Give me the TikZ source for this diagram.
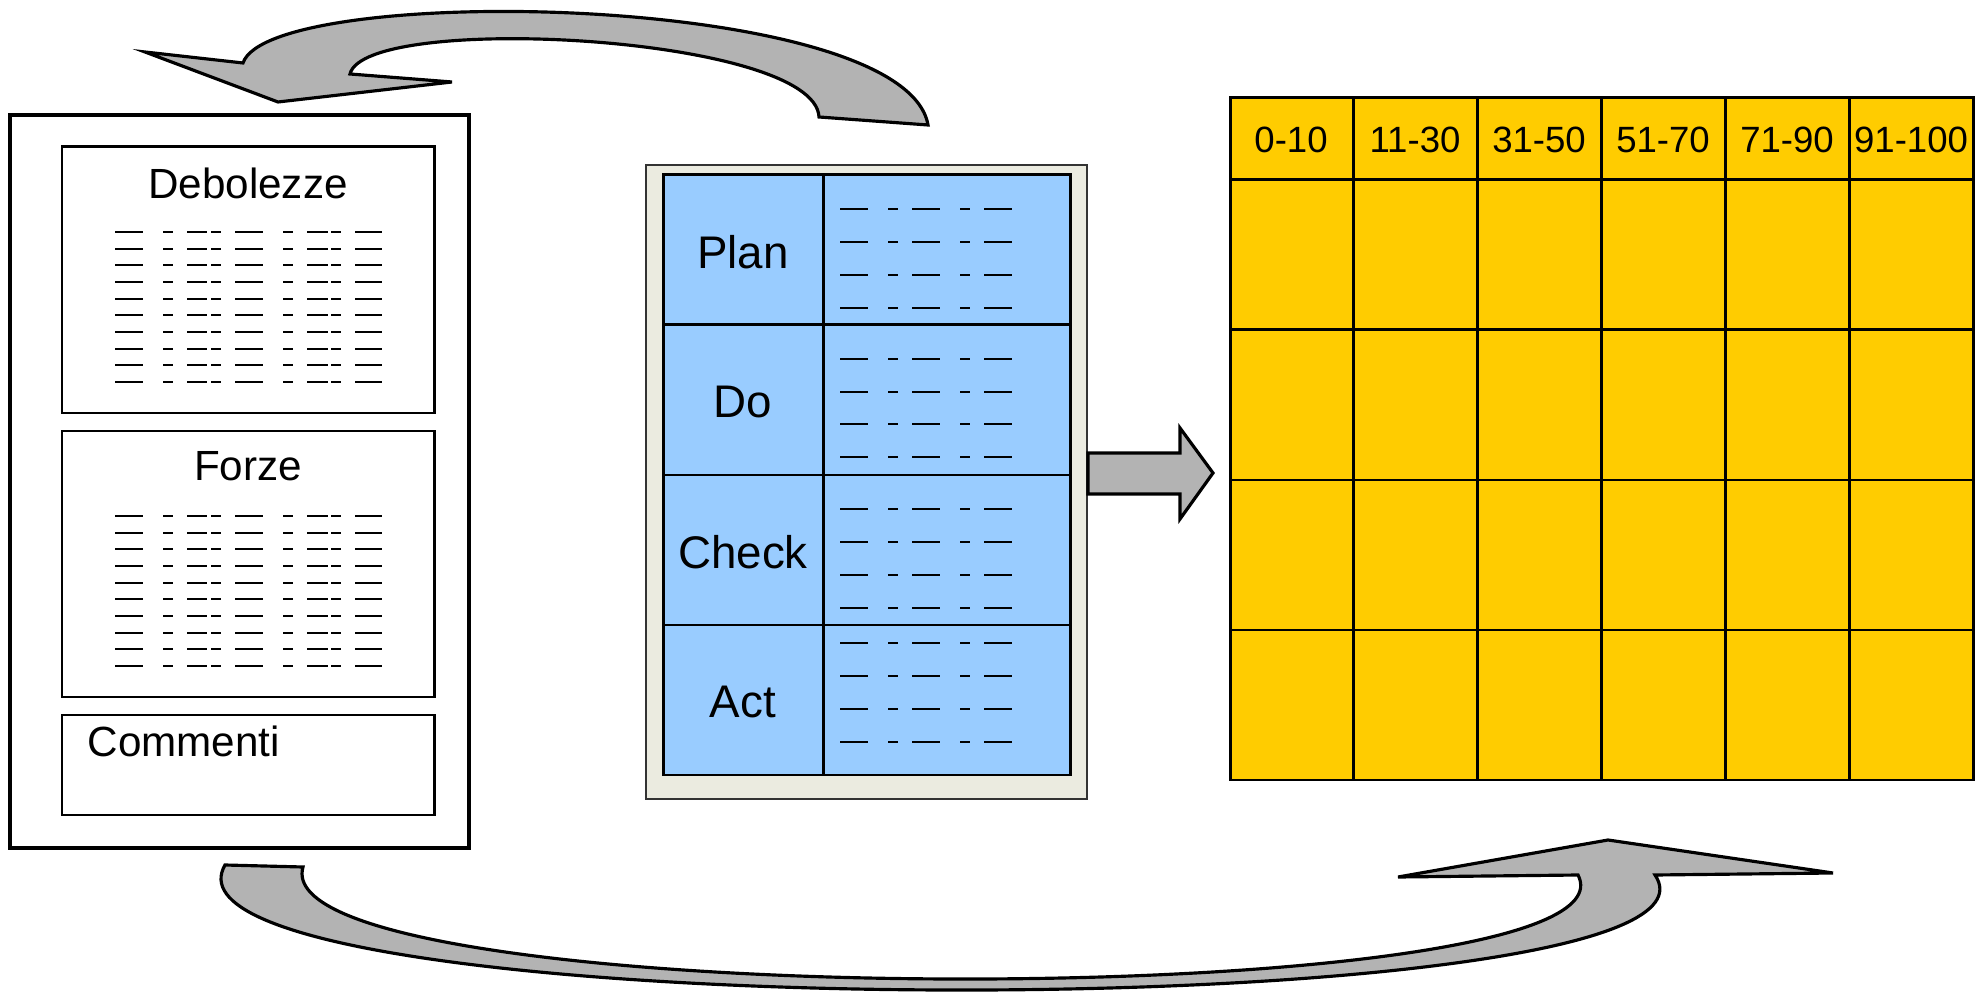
\documentclass[tikz,border=0pt]{standalone}
\usepackage{fontspec}
\setmainfont{Liberation Sans}
\usepackage{tikz}
\usetikzlibrary{positioning}

\definecolor{arrowgray}{HTML}{B3B3B3}
\definecolor{pdcablue}{HTML}{99CCFF}
\definecolor{panelbeige}{HTML}{EBEBE0}
\definecolor{gridorange}{HTML}{FFCC00}

\tikzset{
  bigarrow/.style={fill=arrowgray, draw=black, line width=0.9pt},
  boxline/.style={line width=0.85pt},
  cellline/.style={line width=0.85pt},
  dashline/.style={line width=0.5pt},
  txt/.style={inner sep=0pt}
}

\begin{document}
\begin{tikzpicture}[x=0.01cm,y=-0.01cm]
 \useasboundingbox (0,0) rectangle (1977,1001);

 % curved arrows
 \draw[bigarrow] (928,125) .. controls (905,-8) and (270,-18) .. (243,63)
   -- (145,52) -- (278,102) -- (452,82) -- (350,74)
   .. controls (365,12) and (815,35) .. (819,117) -- cycle;
 \draw[bigarrow] (225,865) .. controls (130,1030) and (1760,1030) .. (1655,875)
   -- (1833,873) -- (1608,840) -- (1398,877) -- (1578,875)
   .. controls (1650,1015) and (260,1015) .. (303,867) -- cycle;

 % left panel
 \draw[line width=1.4pt] (10,115) rectangle (469,848);
 \draw[boxline] (62,147) rectangle (434,413);
 \draw[boxline] (62,431) rectangle (434,697);
 \draw[boxline] (62,715) rectangle (434,815);

 \node[txt] (deb) at (248,183) {\fontsize{12}{14}\selectfont Debolezze};
 \node[txt] (forze) at (248,466) {\fontsize{12}{14}\selectfont Forze};
 \node[txt, anchor=west] (comm) at (87,741) {\fontsize{12}{14}\selectfont Commenti};

 \foreach \r in {0,...,9} {
  \foreach \a/\b in {115/143,163/173,187/207,211/221,235/263,283/293,307/328,331/341,355/382} {
   \draw[dashline] (\a,{232+16.67*\r}) -- (\b,{232+16.67*\r});
   \draw[dashline] (\a,{516+16.67*\r}) -- (\b,{516+16.67*\r});
  }
 }

 % middle panel
 \draw[fill=panelbeige, draw=black!80, line width=0.4pt] (646,165) rectangle (1087,799);
 \draw[cellline, fill=pdcablue] (663,175) rectangle (1070,775);
 \draw[cellline] (823,175) -- (823,775);
 \foreach \y in {325,475,625} \draw[cellline] (663,\y) -- (1070,\y);

 \node[txt] (plan) at (743,252) {\fontsize{13}{15}\selectfont Plan};
 \node[txt] (do) at (743,402) {\fontsize{13}{15}\selectfont Do};
 \node[txt] (check) at (743,552) {\fontsize{13}{15}\selectfont Check};
 \node[txt] (act) at (743,702) {\fontsize{13}{15}\selectfont Act};

 \foreach \y in {209,242,275,308,359,392,424,457,509,542,575,608,643,676,709,742} {
  \foreach \a/\b in {840/868,888/898,912/940,960/970,984/1012}
   \draw[dashline] (\a,\y) -- (\b,\y);
 }

 % block arrow
 \draw[bigarrow] (1088,453) -- (1180,453) -- (1180,428) -- (1213,473)
   -- (1180,519) -- (1180,494) -- (1088,494) -- cycle;

 % score grid
 \draw[cellline, fill=gridorange] (1230,98) rectangle (1973,780);
 \foreach \x in {1353,1477,1601,1725,1849} \draw[cellline] (\x,98) -- (\x,780);
 \foreach \y in {180,330,480,630} \draw[cellline] (1230,\y) -- (1973,\y);

 \foreach \x/\t [count=\i] in {1291/0-10,1415/11-30,1539/31-50,1663/51-70,1787/71-90,1911/91-100}
  \node[txt] (h\i) at (\x,140) {\fontsize{10.4}{12}\selectfont \t};

\end{tikzpicture}
\end{document}
